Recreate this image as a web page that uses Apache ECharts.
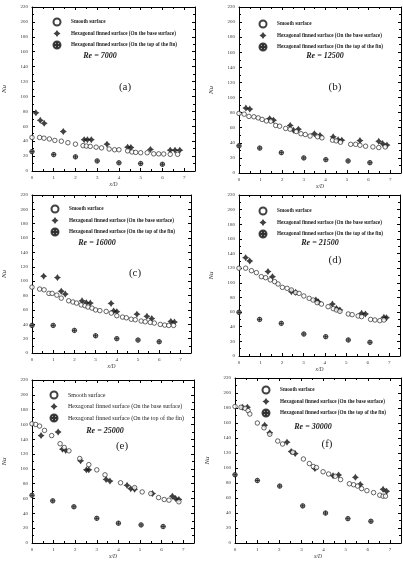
<!DOCTYPE html>
<html>
<head>
<meta charset="utf-8">
<script src="https://cdn.jsdelivr.net/npm/echarts@6/dist/echarts.min.js"></script>
<style>
html,body{margin:0;padding:0;background:#fff;}
#chart{width:403px;height:561px;}
</style>
</head>
<body>
<div id="chart"></div>
<script>
// data, [x/D, Nu]
var seriesNames=['Smooth surface','Hexagonal finned surface (On the base surface)','Hexagonal finned surface (On the top of the fin)'];
var reValues=[7000,12500,16000,21500,25000,30000];
var panelTags=['(a)','(b)','(c)','(d)','(e)','(f)'];
var xTicks=[0,1,2,3,4,5,6,7];
var yTicks=[0,20,40,60,80,100,120,140,160,180,200,220];

var smoothA=[[0,45],[0.35,45],[0.55,44],[0.8,43],[1.05,41],[1.35,40],[1.65,38],[2.0,36],[2.35,34],[2.5,33.5],[2.68,33],[2.95,32],[3.2,31],[3.55,29.5],[3.8,28.5],[4.0,28.5],[4.4,27],[4.6,25.5],[4.77,25],[5.0,24.5],[5.3,24.5],[5.6,23],[5.83,23],[6.06,22.8],[6.36,22.4],[6.7,22.4]];
var baseA=[[0.18,78],[0.38,68],[0.56,64],[1.44,53],[2.4,42],[2.55,42],[2.73,42],[3.45,36],[4.4,32],[4.55,31.5],[5.45,29],[6.36,28],[6.58,28],[6.8,28]];
var topA=[[0,26],[1,22],[2,19],[3,13.5],[4,11],[5,10],[6,9]];

var smoothB=[[0,79],[0.24,78],[0.46,75],[0.69,74.5],[0.89,73],[1.07,71],[1.27,69],[1.47,68.7],[1.7,63],[1.88,62],[2.16,59],[2.37,58],[2.65,55],[2.87,52],[3.07,51],[3.29,49],[3.64,48],[3.84,46.6],[4.33,43.5],[4.5,42.6],[4.7,40.8],[5.17,38],[5.4,38],[5.6,36.8],[5.86,35.5],[6.2,34.6],[6.47,33.7],[6.77,34.6]];
var baseB=[[0.32,86],[0.5,84.7],[1.42,72],[1.6,70],[2.37,63],[2.52,56.8],[2.75,58],[3.49,52],[3.75,49.7],[4.36,48],[4.59,44],[4.76,43.5],[5.6,43],[6.47,42],[6.65,39],[6.85,37]];
var topB=[[0,36],[0.96,33],[1.96,27],[3,20],[4.02,17.7],[5.05,16],[6.06,13.7]];

var smoothC=[[0,91.7],[0.36,89],[0.57,88],[0.8,83],[0.95,83],[1.17,80.6],[1.38,76.4],[1.73,72.7],[1.93,71],[2.1,69.5],[2.32,67],[2.5,65.8],[2.64,64],[2.83,62.5],[3.0,60],[3.2,59],[3.5,57.9],[3.74,55.6],[4.0,51.9],[4.27,50],[4.45,49],[4.68,47],[4.87,46.3],[5.15,44.5],[5.34,43.5],[5.58,42.6],[5.77,41.7],[6.05,39.8],[6.26,38.9],[6.45,38.4],[6.68,38.4]];
var baseC=[[0.55,107],[1.2,105],[1.38,86],[1.57,82],[2.36,72.7],[2.56,70],[2.75,69.5],[3.73,69],[3.85,58.5],[4.0,57.5],[4.95,54],[5.42,51],[5.65,48],[6.55,44],[6.72,43]];
var topC=[[0,38.4],[1,38.4],[2,31.5],[3,24],[4,20],[5,18],[6,15.7]];

var smoothD=[[0,120],[0.31,120],[0.58,116.6],[0.81,113.9],[1.04,108.4],[1.24,107],[1.46,104],[1.66,101.6],[1.82,98.4],[2.02,93.8],[2.24,92.5],[2.44,90.2],[2.64,86.6],[2.8,85.6],[3.02,82],[3.27,78.8],[3.45,76.5],[3.64,72.9],[3.84,71],[4.15,67.4],[4.39,64.7],[4.54,62.9],[4.7,61],[5.09,57.4],[5.27,56.5],[5.55,54.7],[5.71,53.8],[6.13,50],[6.33,49.2],[6.56,48.3],[6.75,49.2]];
var baseD=[[0.31,134.4],[0.5,129.8],[1.35,115.3],[1.56,108.4],[2.44,87.9],[2.64,87],[3.58,76.5],[3.69,74.3],[4.35,71],[4.54,65],[4.7,62.9],[5.71,58.3],[5.89,57.4],[6.75,52.8],[6.87,52.4]];
var topD=[[0,59.7],[0.96,50],[1.97,44.6],[3.02,30],[4.04,26.4],[5.09,21.9],[6.1,18.7]];

var smoothE=[[0,160.9],[0.17,160],[0.35,157.8],[0.58,152],[0.91,145],[1.3,134],[1.49,129],[1.71,124.4],[2.21,114],[2.63,105.8],[3.0,98.7],[3.38,92],[4.1,81.3],[4.75,74.7],[5.1,68.9],[5.5,66.7],[5.86,61.3],[6.12,58.7],[6.34,57.8],[6.8,55.6]];
var baseE=[[0.42,145],[1.21,149.8],[1.41,126.7],[1.56,125],[2.25,111],[2.52,98.7],[2.63,98.7],[3.43,85.8],[3.61,83.6],[4.4,77.8],[4.57,73.3],[4.75,72.4],[5.58,66.7],[6.5,63.1],[6.65,60],[6.8,58.7]];
var topE=[[0,64.4],[0.96,56.9],[1.94,48.9],[3.0,33.3],[4.0,26.7],[5.05,24.4],[6.07,22.2]];

var smoothF=[[0,182],[0.27,181],[0.46,179.6],[0.59,176.6],[0.67,172],[1.01,160],[1.31,153.6],[1.57,145],[1.93,136],[2.15,132],[2.61,121],[3.09,112],[3.36,105.9],[3.54,102],[3.68,100.6],[3.98,95],[4.23,92],[4.53,89],[4.77,84.6],[5.17,79],[5.36,77.7],[5.54,75.9],[5.72,72.5],[5.96,69.8],[6.26,67.2],[6.54,63.8],[6.69,62.5],[6.8,62.5]];
var baseF=[[0.34,181],[0.56,181],[1.34,157],[1.57,147],[2.35,134.5],[2.54,122],[2.72,119.3],[3.61,99.3],[4.43,89.8],[4.68,90.7],[5.44,87.6],[5.66,78],[6.69,71.6],[6.85,69]];
var topF=[[0,91],[1.01,83.3],[2.02,75.9],[3.06,49.5],[4.09,39.9],[5.1,32.5],[6.14,29]];

var panelData=[
    [smoothA,baseA,topA],
    [smoothB,baseB,topB],
    [smoothC,baseC,topC],
    [smoothD,baseD,topD],
    [smoothE,baseE,topE],
    [smoothF,baseF,topF]
];

// layout (pixels)
var grids=[
    {left:32,top:7,width:163,height:164},
    {left:239,top:7,width:162,height:166},
    {left:32,top:195,width:159,height:158},
    {left:239,top:195,width:161,height:161},
    {left:31,top:380,width:163,height:165},
    {left:235,top:378,width:166,height:169}
];
var legendPos=[[56,21],[262,23],[54,208],[262,210],[53,394],[265,389]];
var legendBold=[true,true,true,true,false,true];
var rePos=[[100,56],[325,56],[97,243],[320,243],[105,431],[313,427]];
var tagPos=[[125,87],[335,87],[135,273],[335,260],[122,446],[327,444]];

var font='Liberation Serif';
var ring='M0,-3A3,3 0 1 1 0,3A3,3 0 1 1 0,-3Z';
var symbols=[
    'path://'+ring,
    'path://M0,-3L1.2,-1.2L3,0L1.2,1.2L0,3L-1.2,1.2L-3,0L-1.2,-1.2Z',
    'path://'+ring+'M-3,0L3,0M0,-3L0,3'
];
var symbolSizes=[4.5,7,4.5];
var itemStyles=[
    {color:'#fff',borderColor:'#111',borderWidth:0.8},
    {color:'#111'},
    {color:'#999',borderColor:'#111',borderWidth:0.9}
];

function xAxisFor(i,mirror){
    var ax={
        gridIndex:i,type:'value',min:0,max:7.5,interval:1,
        position:mirror?'top':'bottom',
        axisLine:{onZero:false,lineStyle:{color:'#000',width:1}},
        axisTick:{inside:true,length:3,lineStyle:{color:'#000'}},
        minorTick:{show:true,splitNumber:2,length:2,lineStyle:{color:'#000'}},
        splitLine:{show:false},
        axisLabel:{show:!mirror,fontSize:5,margin:4,color:'#333',fontFamily:font,showMaxLabel:false,
            formatter:function(v){return xTicks.indexOf(v)>=0?String(v):'';}}
    };
    if(!mirror){
        ax.name='x/D';ax.nameLocation='middle';ax.nameGap=11;
        ax.nameTextStyle={fontSize:5.5,fontFamily:font,fontStyle:'italic',color:'#333'};
    }
    return ax;
}
function yAxisFor(i,mirror){
    var ax={
        gridIndex:i,type:'value',min:0,max:220,interval:20,
        position:mirror?'right':'left',
        axisLine:{onZero:false,lineStyle:{color:'#000',width:1}},
        axisTick:{inside:true,length:3,lineStyle:{color:'#000'}},
        minorTick:{show:true,splitNumber:2,length:2,lineStyle:{color:'#000'}},
        splitLine:{show:false},
        axisLabel:{show:!mirror,fontSize:5,margin:4,color:'#333',fontFamily:font,
            formatter:function(v){return yTicks.indexOf(v)>=0?String(v):'';}}
    };
    if(!mirror){
        ax.name='Nu';ax.nameLocation='middle';ax.nameGap=24;ax.nameRotate=90;
        ax.nameTextStyle={fontSize:7,fontFamily:font,fontStyle:'italic',color:'#333'};
    }
    return ax;
}

var xAxes=[],yAxes=[],series=[],legends=[],texts=[];
grids.forEach(function(g,i){
    xAxes.push(xAxisFor(i,false));
    yAxes.push(yAxisFor(i,false));
});
grids.forEach(function(g,i){
    xAxes.push(xAxisFor(i,true));
    yAxes.push(yAxisFor(i,true));
});
panelData.forEach(function(sets,i){
    sets.forEach(function(pts,k){
        series.push({
            type:'scatter',name:seriesNames[k],
            xAxisIndex:i,yAxisIndex:i,
            data:pts,symbol:symbols[k],symbolSize:symbolSizes[k],symbolKeepAspect:true,
            itemStyle:itemStyles[k],silent:true,z:3-k
        });
    });
    legends.push({
        data:seriesNames,orient:'vertical',selectedMode:false,
        left:legendPos[i][0]-3.5,top:legendPos[i][1]-3.5,
        itemWidth:18,itemHeight:7,itemGap:3.5,padding:0,
        textStyle:{fontSize:legendBold[i]?5.2:6,fontFamily:font,fontWeight:legendBold[i]?'bold':'normal',color:'#222'}
    });
    texts.push({
        type:'text',x:rePos[i][0],y:rePos[i][1],
        style:{text:'Re = '+reValues[i],fill:'#222',font:'italic bold 8px "Liberation Serif"',align:'center',verticalAlign:'middle'}
    });
    texts.push({
        type:'text',x:tagPos[i][0],y:tagPos[i][1],
        style:{text:panelTags[i],fill:'#222',font:'11px "Liberation Serif"',align:'center',verticalAlign:'middle'}
    });
});

var chart=echarts.init(document.getElementById('chart'),null,{renderer:'canvas'});
chart.setOption({
    animation:false,
    backgroundColor:'#fff',
    grid:grids.map(function(g){return {left:g.left,top:g.top,width:g.width,height:g.height,show:false};}),
    xAxis:xAxes,
    yAxis:yAxes,
    legend:legends,
    series:series,
    graphic:texts
});
</script>
</body>
</html>
